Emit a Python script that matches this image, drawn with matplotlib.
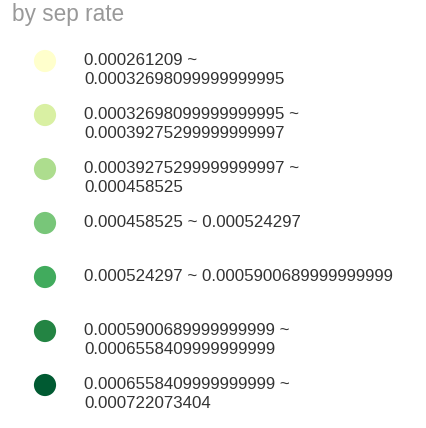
import matplotlib
matplotlib.use("Agg")
import matplotlib.pyplot as plt

plt.rcParams["font.family"] = ["Liberation Sans", "DejaVu Sans"]

# Legend classes (YlGn, 7 classes)
labels = [
    "0.000261209 ~\n0.00032698099999999995",
    "0.00032698099999999995 ~\n0.00039275299999999997",
    "0.00039275299999999997 ~\n0.000458525",
    "0.000458525 ~ 0.000524297",
    "0.000524297 ~ 0.0005900689999999999",
    "0.0005900689999999999 ~\n0.0006558409999999999",
    "0.0006558409999999999 ~\n0.000722073404",
]
colors = ["#ffffcc", "#d9f0a3", "#addd8e", "#78c679", "#41ab5d", "#238443", "#005a32"]
title = "by sep rate"

W, H = 426, 428
fig = plt.figure(figsize=(W / 100, H / 100), dpi=100)
fig.patch.set_facecolor("white")
ax = fig.add_axes([0, 0, 1, 1])
ax.set_xlim(0, W)
ax.set_ylim(H, 0)
ax.axis("off")

ax.text(12, 20.5, title, fontsize=16.3, color="#999999", va="baseline", ha="left")

y0, step = 61, 54
for i, (lab, col) in enumerate(zip(labels, colors)):
    cy = y0 + i * step
    ax.scatter([45], [cy], s=255, color=col, edgecolors="none", zorder=3)
    for j, line in enumerate(lab.split("\n")):
        ax.text(84, cy + 4 + j * 19, line, fontsize=12.15, color="#333333",
                va="baseline", ha="left")

fig.savefig("out.png", dpi=100, facecolor="white")
